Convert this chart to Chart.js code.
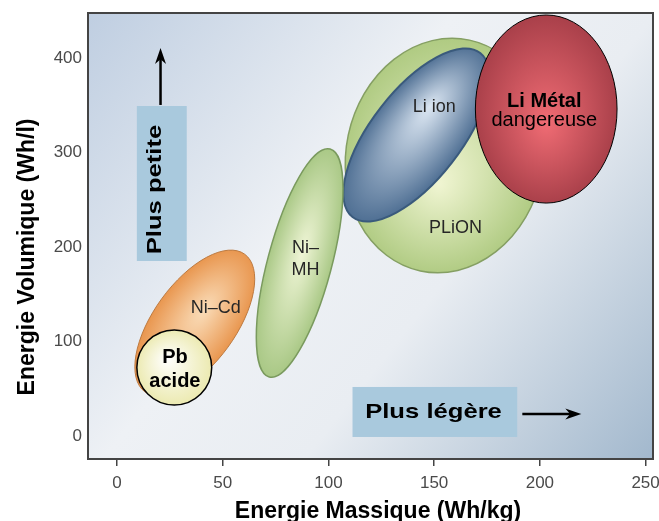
<!DOCTYPE html>
<html>
<head>
<meta charset="utf-8">
<script src="https://cdn.jsdelivr.net/npm/chart.js@4.4.1/dist/chart.umd.min.js"></script>
<style>
	html, body { margin: 0; padding: 0; background: #fff; }
	#wrap { width: 659px; height: 521px; }
</style>
</head>
<body>
<div id="wrap"><canvas id="chart" width="659" height="521"></canvas></div>
<script>
// regions, drawn back to front
const technologies = ['PLiON', 'Li ion', 'Li Métal', 'Ni-MH', 'Ni-Cd', 'Pb acide'];
// centre of each region (Wh/kg, Wh/l)
const centreMass = [155.1, 141.6, 203.0, 86.4, 36.8, 27.1];
const centreVol = [297.0, 318.7, 346.2, 183.3, 119.8, 72.7];
// first half-axis of each region, as a (Wh/kg, Wh/l) vector
const axisOneMass = [11.6, 30.2, 0, 14.4, 23.6, 0];
const axisOneVol = [122.1, 86.8, 99.5, 120.6, 72.8, 39.7];
// second half-axis
const axisTwoMass = [45.7, 16.8, 33.5, 14.6, 15.7, 17.7];
const axisTwoVol = [-21.8, -29.3, 0, -8.8, -25.5, 0];
// where the names are written
const labelMass = [160.1, 150.1, 202.1, 89.2, 46.7, 27.4];
const labelVol = [221.9, 349.9, 345.7, 189.0, 137.1, 72.4];
const labelLines = [['PLiON'], ['Li ion'], ['Li Métal', 'dangereuse'], ['Ni–', 'MH'], ['Ni–Cd'], ['Pb', 'acide']];

const massTicks = [0, 50, 100, 150, 200, 250];
const volTicks = [0, 100, 200, 300, 400];

// looks
const fillInner = ['#f0f5d2', '#dbe6f2', '#f06c74', '#eff5d6', '#fadcb8', '#ffffff'];
const fillOuter = ['#adc97f', '#4a6b90', '#a63e48', '#a6c682', '#e8934a', '#ebe9ae'];
const glowOne = [-0.25, 0.3, -0.15, 0.1, 0.2, 0.25];
const glowTwo = [0, -0.15, 0, 0, 0, -0.2];
const edgeColour = ['#859f63', '#3a5a7c', '#000000', '#7a9a5e', '#bd7a40', '#000000'];
const edgeWidth = [1.5, 2, 1, 1.5, 1, 1.5];
const labelColour = ['#262626', '#262626', '#000', '#262626', '#262626', '#000'];
const labelFonts = [['18px'], ['18px'], ['bold 20px', '20px'], ['18px', '18px'], ['18px'], ['bold 20px', 'bold 20px']];
const labelGap = [0, 0, 19.5, 22, 0, 24];

const FONT = '"Liberation Sans", Arial, sans-serif';
Chart.defaults.font.family = FONT;

const hints = [
	{ text: 'Plus petite', boxMass: [9.4, 33.0], boxVol: [185.4, 349.4], textMass: 20.6, textVol: 261, vertical: true,
		arrowFrom: [20.6, 350.5], arrowTo: [20.6, 410.8] },
	{ text: 'Plus légère', boxMass: [111.4, 189.3], boxVol: [-0.8, 52.1], textMass: 149.7, textVol: 19.3, vertical: false,
		arrowFrom: [191.7, 23.5], arrowTo: [219.6, 23.5] },
];

function drawRegion(ctx, xs, ys, i) {
	const cx = xs.getPixelForValue(centreMass[i]);
	const cy = ys.getPixelForValue(centreVol[i]);
	const ax = xs.getPixelForValue(centreMass[i] + axisOneMass[i]) - cx;
	const ay = ys.getPixelForValue(centreVol[i] + axisOneVol[i]) - cy;
	const bx = xs.getPixelForValue(centreMass[i] + axisTwoMass[i]) - cx;
	const by = ys.getPixelForValue(centreVol[i] + axisTwoVol[i]) - cy;
	ctx.save();
	ctx.transform(ax, ay, bx, by, cx, cy);
	ctx.beginPath();
	ctx.arc(0, 0, 1, 0, Math.PI * 2);
	const g = ctx.createRadialGradient(glowOne[i], glowTwo[i], 0, 0, 0, 1.05);
	g.addColorStop(0, fillInner[i]);
	g.addColorStop(1, fillOuter[i]);
	ctx.fillStyle = g;
	ctx.fill();
	ctx.restore();
	ctx.lineWidth = edgeWidth[i];
	ctx.strokeStyle = edgeColour[i];
	ctx.stroke();
}

function drawLabel(ctx, xs, ys, i) {
	const x = xs.getPixelForValue(labelMass[i]);
	const y = ys.getPixelForValue(labelVol[i]);
	const lines = labelLines[i];
	ctx.fillStyle = labelColour[i];
	ctx.textAlign = 'center';
	ctx.textBaseline = 'alphabetic';
	lines.forEach((line, k) => {
		const font = labelFonts[i][k];
		const size = parseFloat(font.split(' ').pop());
		ctx.font = font + ' ' + FONT;
		const base = y + (k - (lines.length - 1) / 2) * labelGap[i] + size * 0.36;
		ctx.fillText(line, x, base);
	});
}

function drawArrow(ctx, x1, y1, x2, y2) {
	const ang = Math.atan2(y2 - y1, x2 - x1);
	const head = 16;
	ctx.save();
	ctx.strokeStyle = '#000';
	ctx.fillStyle = '#000';
	ctx.lineWidth = 2.5;
	ctx.beginPath();
	ctx.moveTo(x1, y1);
	ctx.lineTo(x2 - head * 0.6 * Math.cos(ang), y2 - head * 0.6 * Math.sin(ang));
	ctx.stroke();
	ctx.translate(x2, y2);
	ctx.rotate(ang);
	ctx.beginPath();
	ctx.moveTo(0, 0);
	ctx.lineTo(-head, -5.5);
	ctx.lineTo(-head * 0.7, 0);
	ctx.lineTo(-head, 5.5);
	ctx.closePath();
	ctx.fill();
	ctx.restore();
}

function drawHint(ctx, xs, ys, h) {
	const x1 = xs.getPixelForValue(h.boxMass[0]), x2 = xs.getPixelForValue(h.boxMass[1]);
	const y1 = ys.getPixelForValue(h.boxVol[1]), y2 = ys.getPixelForValue(h.boxVol[0]);
	ctx.fillStyle = '#a9c9dd';
	ctx.fillRect(x1, y1, x2 - x1, y2 - y1);
	ctx.save();
	ctx.translate(xs.getPixelForValue(h.textMass), ys.getPixelForValue(h.textVol));
	if (h.vertical) ctx.rotate(-Math.PI / 2);
	ctx.scale(1.22, 1);
	ctx.fillStyle = '#000';
	ctx.font = 'bold 21px ' + FONT;
	ctx.textAlign = 'center';
	ctx.textBaseline = 'alphabetic';
	ctx.fillText(h.text, 0, 0);
	ctx.restore();
	drawArrow(ctx,
		xs.getPixelForValue(h.arrowFrom[0]), ys.getPixelForValue(h.arrowFrom[1]),
		xs.getPixelForValue(h.arrowTo[0]), ys.getPixelForValue(h.arrowTo[1]));
}

const regionPlugin = {
	id: 'regions',
	beforeDraw(chart) {
		const { ctx, chartArea: a } = chart;
		const g = ctx.createLinearGradient(a.left, a.top, a.right, a.bottom);
		g.addColorStop(0, '#bfcee1');
		g.addColorStop(0.4, '#eef1f5');
		g.addColorStop(0.62, '#e9edf2');
		g.addColorStop(1, '#a2b8cd');
		ctx.save();
		ctx.fillStyle = g;
		ctx.fillRect(a.left, a.top, a.right - a.left, a.bottom - a.top);
		ctx.restore();
	},
	afterDatasetsDraw(chart) {
		const { ctx } = chart;
		const xs = chart.scales.x, ys = chart.scales.y;
		ctx.save();
		technologies.forEach((t, i) => drawRegion(ctx, xs, ys, i));
		technologies.forEach((t, i) => drawLabel(ctx, xs, ys, i));
		hints.forEach(h => drawHint(ctx, xs, ys, h));
		ctx.restore();
	},
	afterDraw(chart) {
		const { ctx, chartArea: a } = chart;
		ctx.save();
		ctx.strokeStyle = '#444';
		ctx.lineWidth = 2;
		ctx.strokeRect(a.left, a.top, a.right - a.left, a.bottom - a.top);
		// axis titles
		ctx.fillStyle = '#000';
		ctx.font = 'bold 23px ' + FONT;
		ctx.textAlign = 'center';
		ctx.textBaseline = 'alphabetic';
		ctx.fillText('Energie Massique (Wh/kg)', 378, 518);
		ctx.translate(34, 257);
		ctx.rotate(-Math.PI / 2);
		ctx.fillText('Energie Volumique (Wh/l)', 0, 0);
		ctx.restore();
	}
};

const tickFont = { family: FONT, size: 17 };

function noOverhang(scale) {
	scale.paddingLeft = 0;
	scale.paddingRight = 0;
	scale.paddingTop = 0;
	scale.paddingBottom = 0;
}

const config = {
	type: 'scatter',
	data: { datasets: [] },
	options: {
		responsive: false,
		animation: false,
		layout: { padding: { top: 13, right: 6, left: 0, bottom: 0 } },
		plugins: {
			legend: { display: false },
			tooltip: { enabled: false },
		},
		scales: {
			x: {
				type: 'linear',
				position: 'bottom',
				min: -13.7,
				max: 253.5,
				afterBuildTicks: scale => { scale.ticks = massTicks.map(v => ({ value: v })); },
				afterFit: scale => { scale.height = 62; noOverhang(scale); },
				grid: { drawOnChartArea: false, drawTicks: true, tickLength: 7, color: '#444', lineWidth: 1.5 },
				border: { display: false },
				ticks: { padding: 7, color: '#4a4a4a', font: tickFont, maxRotation: 0, autoSkip: false },
			},
			y: {
				type: 'linear',
				min: -24.1,
				max: 447.8,
				afterBuildTicks: scale => { scale.ticks = volTicks.map(v => ({ value: v })); },
				afterFit: scale => { scale.width = 88; noOverhang(scale); },
				grid: { display: false, drawTicks: false },
				border: { display: false },
				ticks: { padding: 6, color: '#4a4a4a', font: tickFont },
			}
		}
	},
	plugins: [regionPlugin]
};

const myChart = new Chart(document.getElementById('chart'), config);
</script>
</body>
</html>
